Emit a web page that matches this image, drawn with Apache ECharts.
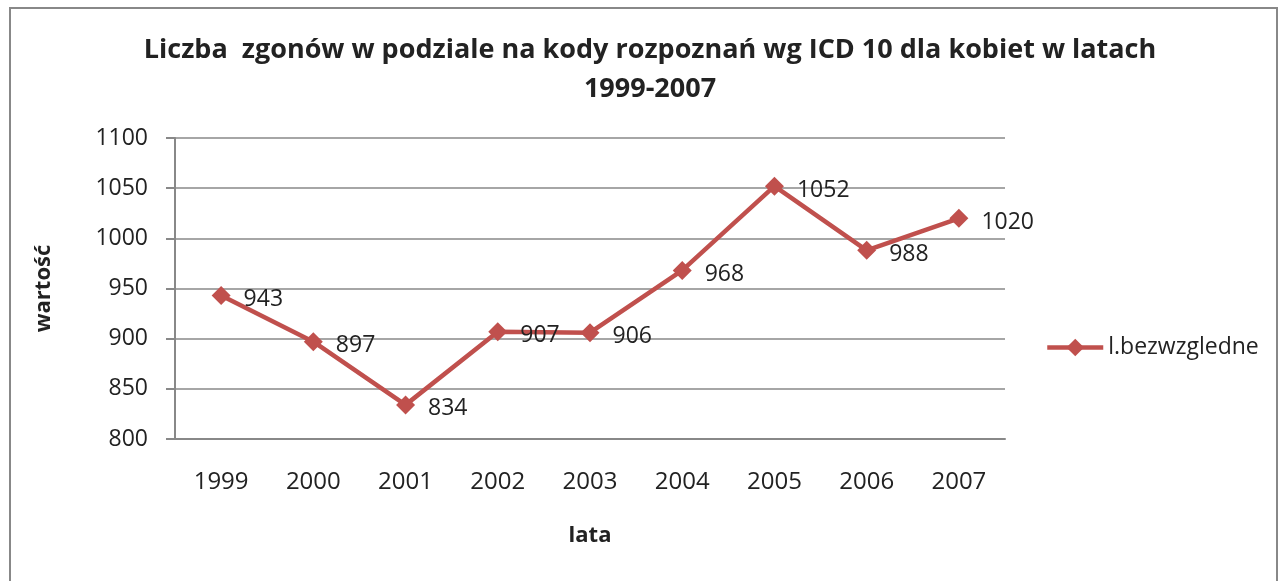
<!DOCTYPE html>
<html>
<head>
<meta charset="utf-8">
<script src="https://cdn.jsdelivr.net/npm/echarts@6/dist/echarts.min.js"></script>
<style>
  html, body { margin: 0; padding: 0; background: #fff; }
  #chart { width: 1284px; height: 581px; }
</style>
</head>
<body>
<div id="chart"></div>
<script>
var years = ['1999', '2000', '2001', '2002', '2003', '2004', '2005', '2006', '2007'];
var values = [943, 897, 834, 907, 906, 968, 1052, 988, 1020];
var seriesName = 'l.bezwzgledne';

var font = '"Open Sans", Lato, sans-serif';
var chart = echarts.init(document.getElementById('chart'));
var option = {
    animation: false,
    textStyle: { fontFamily: font },
    title: {
        text: 'Liczba  zgonów w podziale na kody rozpoznań wg ICD 10 dla kobiet w latach\n1999-2007',
        left: 645,
        textAlign: 'center',
        top: 26,
        textStyle: { fontFamily: font, fontSize: 27, fontWeight: 'bold', color: '#222', lineHeight: 39 }
    },
    graphic: [{
        type: 'rect',
        shape: { x: 10, y: 8, width: 1267, height: 590 },
        style: { fill: 'none', stroke: '#888', lineWidth: 2 }
    }],
    legend: {
        data: [seriesName],
        left: 1040,
        top: 331,
        itemWidth: 56,
        itemHeight: 22,
        itemGap: 2,
        lineStyle: { width: 4.5 },
        textStyle: { fontFamily: font, fontSize: 23, color: '#222' }
    },
    grid: { left: 175, right: 279, top: 138, bottom: 142 },
    xAxis: {
        type: 'category',
        data: years,
        boundaryGap: true,
        name: 'lata',
        nameLocation: 'middle',
        nameGap: 86,
        nameTextStyle: { fontFamily: font, fontSize: 22, fontWeight: 'bold', color: '#222' },
        axisLine: { lineStyle: { color: '#888', width: 2 } },
        axisTick: { show: false },
        axisLabel: { fontFamily: font, fontSize: 24, color: '#222', margin: 31 }
    },
    yAxis: {
        type: 'value',
        min: 800,
        max: 1100,
        interval: 50,
        name: 'wartość',
        nameLocation: 'middle',
        nameGap: 120,
        nameRotate: 90,
        nameTextStyle: { fontFamily: font, fontSize: 22, fontWeight: 'bold', color: '#222' },
        axisLine: { show: true, lineStyle: { color: '#888', width: 2 } },
        axisTick: { show: true, length: 9, lineStyle: { color: '#888', width: 2 } },
        axisLabel: {
            fontFamily: font, fontSize: 23, color: '#222', margin: 27,
            formatter: function (v) { return String(v); }
        },
        splitLine: { lineStyle: { color: '#888', width: 1.5 } }
    },
    series: [{
        name: seriesName,
        type: 'line',
        data: values,
        symbol: 'diamond',
        symbolSize: 19,
        lineStyle: { color: '#C0504D', width: 4.5 },
        itemStyle: { color: '#C0504D' },
        label: {
            show: true,
            position: 'right',
            distance: 13,
            offset: [0, 4],
            fontFamily: font,
            fontSize: 23,
            color: '#222'
        }
    }]
};
chart.setOption(option);
</script>
</body>
</html>
